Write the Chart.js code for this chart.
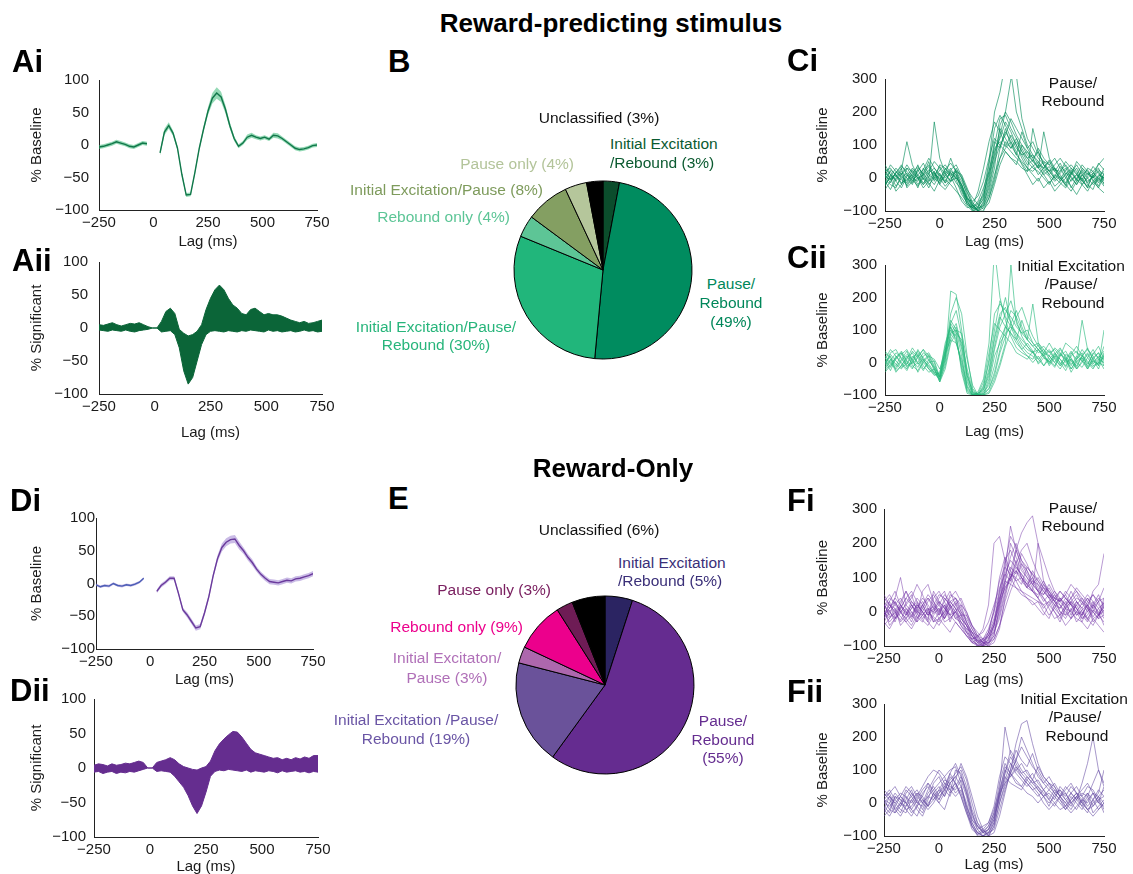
<!DOCTYPE html>
<html>
<head>
<meta charset="utf-8">
<script src="https://cdn.jsdelivr.net/npm/chart.js@4.4.1/dist/chart.umd.min.js"></script>
<style>
html, body { margin: 0; padding: 0; background: #fff; }
body { width: 1133px; height: 874px; position: relative; overflow: hidden; font-family: "Liberation Sans", Arial, sans-serif; color: #111; }
.box { position: absolute; }
.txt { position: absolute; white-space: nowrap; font-size: 15.5px; line-height: 1; }
.lbl { position: absolute; white-space: nowrap; font-weight: bold; font-size: 31px; line-height: 1; transform: translateY(-50%); }
.ttl { position: absolute; white-space: nowrap; font-weight: bold; font-size: 26px; line-height: 1; transform: translate(-50%, -50%); }
</style>
</head>
<body>
<script>
// ---- data ----
const range = (a, b, s) => { const r = []; for (let v = a; v <= b; v += s) r.push(v); return r; };
const lagsPre = range(-250, -30, 20);
const lagsPost = range(30, 750, 20);
const lagsAll = range(-250, 750, 20);
const lagsTrace = range(-250, 750, 25);

// Ai : mean % baseline (reward-predicting), with sem
const aiPre = [-3, -2, 0, 2, 5, 3, 1, -2, -3, 0, 3, 2];
const aiPost = [-12, 20, 30, 18, -5, -45, -77, -76, -42, -5, 25, 52, 72, 80, 74, 55, 30, 10, -2, 3,
  12, 15, 12, 10, 12, 9, 15, 14, 10, 5, 0, -5, -7, -6, -4, -1, 0];
const aiSemPre = [3, 3, 3, 3, 3, 3, 3, 3, 3, 3, 3, 3];
const aiSemPost = [4, 5, 5, 4, 3, 3, 3, 3, 3, 3, 4, 6, 8, 9, 8, 6, 5, 4, 3, 3,
  4, 4, 3, 3, 3, 3, 4, 4, 3, 3, 3, 3, 3, 3, 3, 3, 3];

// Aii : % significant (upper / lower envelope)
const aiiUp = [5, 4, 6, 8, 5, 3, 5, 7, 6, 8, 5, 2, 0, 0, 10, 25, 30, 22, -2, -8,
  -12, -10, -5, 5, 28, 45, 58, 65, 58, 45, 35, 30, 22, 20, 28, 30, 25, 20, 22, 20,
  20, 18, 15, 12, 10, 8, 10, 7, 8, 10, 12];
const aiiLo = [-3, -4, -5, -3, -4, -5, -3, -5, -6, -4, -3, -2, 0, 0, -6, -5, -4, -10, -30, -65,
  -85, -75, -50, -25, -10, -5, -4, -5, -6, -4, -5, -6, -4, -5, -3, -4, -5, -6, -3, -5,
  -4, -6, -5, -4, -6, -5, -3, -5, -4, -6, -5];

// Di : mean % baseline (reward-only), with sem
const diPre = [-2, -5, -3, -4, 0, -3, -4, -2, -3, -1, 2, 8];
const diPost = [-12, -3, 2, 8, 8, -15, -40, -48, -58, -68, -66, -45, -20, 12, 38, 55, 63, 67, 68, 58,
  50, 40, 32, 22, 14, 8, 3, 2, 1, 3, 5, 4, 7, 8, 10, 12, 15];
const diSemPre = [2, 2, 2, 2, 2, 2, 2, 2, 2, 2, 2, 2];
const diSemPost = [3, 3, 3, 3, 3, 3, 3, 4, 4, 4, 4, 4, 4, 4, 5, 6, 6, 6, 6, 6,
  5, 5, 5, 4, 4, 4, 4, 4, 4, 4, 4, 4, 4, 4, 4, 4, 4];

// Dii : % significant
const diiUp = [4, 6, 5, 3, 6, 4, 5, 7, 6, 8, 10, 8, 0, 0, 8, 10, 12, 15, 12, 6,
  2, 0, -2, -3, 0, 2, 10, 25, 35, 42, 48, 53, 52, 45, 36, 27, 22, 20, 18, 16,
  14, 15, 12, 14, 12, 15, 13, 16, 14, 18, 18];
const diiLo = [-6, -5, -8, -6, -5, -8, -6, -7, -5, -6, -4, -2, 0, 0, -5, -4, -5, -6, -12, -20,
  -28, -40, -55, -66, -55, -35, -12, -5, -3, -4, -2, -3, -4, -5, -3, -6, -4, -5, -6, -4,
  -5, -7, -4, -6, -5, -4, -6, -5, -7, -5, -6];

// Ci : single neurons, Pause/Rebound (reward-predicting)
const ciTraces = [
  [10, -15, 20, 5, -10, 25, 0, -20, 15, 30, 5, -10, 20, 10, -40, -80, -95, -90, -60, 40, 150, 190, 160, 120, 90, 70, 40, 55, 30, 10, 25, -5, 15, 30, 0, -20, 10, 25, -10, 5, 20],
  [-20, 5, 30, 10, 40, 15, -5, 10, 35, 0, -15, 20, 5, -30, -70, -90, -85, -40, 30, 110, 170, 140, 100, 80, 60, 45, 20, 35, 50, 30, 10, -10, 5, -25, 10, 30, -5, -30, 15, 0, -15],
  [30, 10, -25, 0, 15, -10, 20, 45, 10, -5, 25, 40, 15, 0, -20, -60, -85, -95, -80, -20, 60, 130, 200, 300, 310, 180, 120, 90, 60, 40, 20, 30, -10, 15, 5, -20, 10, -15, 5, 25, 10],
  [0, 20, -10, -30, 5, 30, 10, -15, 5, 20, -10, 5, 30, -5, -50, -75, -90, -70, -30, 20, 90, 110, 95, 130, 100, 70, 80, 50, 90, 60, 40, 20, 45, 10, 30, 15, -20, 5, 35, 15, -5],
  [-10, -35, 0, 25, 110, 40, 5, -20, -5, 170, 60, 15, -10, 5, -30, -65, -70, -55, -10, 60, 120, 100, 80, 60, 40, 100, 70, 50, 30, 140, 60, 30, 10, -15, 20, -10, 25, 0, -20, -5, 30],
  [15, 0, 10, -15, -5, 10, -20, 5, 25, 10, 0, -25, -5, 20, -10, -45, -80, -100, -85, -50, 10, 60, 90, 110, 70, 50, 30, 10, -10, 20, 5, -25, -10, 10, -30, 0, 20, -20, -35, 10, 0],
  [-25, 10, -5, 20, 0, -20, 30, 15, -10, 5, 35, 10, 60, 15, -20, -70, -95, -85, -65, 0, 100, 180, 190, 150, 120, 90, 60, 40, 10, 30, 50, 20, 0, -20, 15, 40, 10, -10, 5, -25, 15],
  [5, -5, 15, 35, 20, 0, -10, 30, 0, -20, 10, -5, -20, -40, -60, -85, -100, -90, -40, 50, 200, 260, 350, 320, 200, 150, 100, 70, 50, 20, 35, 0, -15, -30, -5, 10, -10, 15, 0, 20, -20],
  [20, 30, 5, -5, -20, 5, 40, 0, -30, 15, -5, 30, 10, 25, 0, -35, -60, -80, -95, -75, -20, 40, 80, 60, 50, 30, 20, 150, 80, 40, 20, 40, 60, 35, 10, 50, 30, 15, -5, -30, 5],
  [-5, -20, -30, 10, 30, 20, 0, 10, 50, -10, 15, -15, 0, 10, -30, -80, -90, -75, -50, 10, 70, 150, 120, 90, 110, 80, 60, 70, 40, 30, 55, 25, 20, 40, 15, -5, 30, 10, 20, 40, 60],
  [-15, 25, 10, -20, 30, 5, -30, 20, 40, 15, -20, 10, -10, 30, 0, -55, -90, -100, -70, -10, 80, 120, 170, 140, 100, 60, 30, 20, 40, 10, -15, 5, 35, 20, -10, 10, -5, 30, 20, -10, 10],
  [40, 10, -10, 15, -25, 0, 25, -5, 20, 50, 30, 0, 15, -15, -35, -70, -100, -95, -75, -30, 50, 100, 130, 180, 150, 120, 90, 110, 70, 50, 40, 60, 30, 0, 25, -5, -20, 0, 15, 30, -10],
  [-35, -10, 15, 40, 10, -15, 0, -30, -10, 20, -20, -35, -10, 0, -20, -60, -80, -100, -100, -60, 0, 90, 140, 110, 80, 40, 10, -20, 0, -30, -10, -40, -20, 0, -25, -50, -20, -40, -10, -30, -45],
  [5, 40, 20, 0, -15, 15, 35, 10, -20, 0, 40, 30, 5, 20, 10, -30, -75, -90, -85, -40, 30, 160, 200, 170, 130, 100, 80, 60, 30, 50, 20, 0, 20, 50, 30, 10, 40, 20, 0, 45, 25],
  [-20, 0, -40, -20, 10, -5, -25, 0, -15, -40, -5, 25, 45, 20, -25, -65, -90, -80, -55, 20, 110, 90, 150, 100, 70, 140, 90, 60, 80, 40, 10, 30, 0, -20, -40, -10, 0, -30, -15, 0, -25],
  [25, -5, 5, 30, -30, -10, 10, 25, 60, 30, 10, -15, 25, 40, 5, -40, -85, -100, -90, -60, -10, 60, 110, 90, 120, 80, 50, 30, 20, 0, -20, 10, -5, 25, 40, 20, -10, -25, 10, -15, 5]
];

// Cii : single neurons, Initial Excitation/Pause/Rebound (reward-predicting)
const ciiTraces = [
  [10, -15, 20, 0, -20, 15, 30, 5, -10, -35, -40, 40, 100, 80, -20, -90, -100, -95, -80, -20, 80, 150, 170, 120, 90, 60, 40, 30, 55, 20, 0, 25, 10, -15, 20, 35, 5, -10, 30, 15, 0],
  [-20, 5, 30, 15, -5, 20, 0, -25, 10, -20, -50, 20, 80, 110, 40, -60, -95, -100, -70, 0, 100, 190, 140, 110, 70, 40, 60, 35, 10, 30, -10, 15, 40, 20, -5, 10, 30, -15, 10, -20, 25],
  [30, 10, -10, 25, 40, 5, -15, 20, 30, 0, -55, 10, 220, 210, 100, -50, -100, -100, -100, -60, 20, 60, 90, 110, 90, 70, 50, 30, 40, 20, 35, 10, -10, 25, 15, -20, 5, 30, 0, 20, 10],
  [0, 20, -25, -10, 15, 30, -5, 10, -20, -40, -30, 50, 120, 90, -30, -95, -100, -90, -50, 60, 350, 200, 130, 80, 45, 30, 20, 10, 40, 15, -5, 20, 0, -25, 10, -10, 20, 5, -15, 0, -10],
  [-30, -10, 10, 30, 0, -20, 20, 40, 5, -15, -60, 0, 90, 100, 60, -40, -90, -100, -95, -80, -30, 40, 110, 160, 140, 100, 70, 180, 60, 40, 20, 0, 30, 10, -20, 5, 15, -5, 25, 50, 10],
  [15, -5, -20, 5, 25, 10, -30, 0, 20, 10, -20, 30, 70, 60, 10, -70, -100, -100, -85, -40, 50, 130, 200, 120, 80, 50, 30, 20, 0, 25, 40, 15, -10, 5, 30, 10, 130, 40, 20, -10, 100],
  [-10, 25, 5, -15, -5, 35, 15, -20, 0, 5, -45, 20, 150, 200, 150, 20, -80, -100, -100, -90, -50, 0, 60, 300, 120, 90, 100, 60, 40, 50, 30, 40, 20, 60, 45, 30, 20, 40, 10, 30, -10],
  [5, -25, 15, 30, -15, 0, 40, 10, -15, -30, -35, 60, 110, 70, -10, -85, -100, -95, -60, 30, 120, 100, 80, 60, 30, 20, 10, 35, -5, 15, 5, -15, 25, 10, -30, 0, 15, -20, 5, -5, 20],
  [20, 0, -15, 10, 35, -10, -25, 5, 25, -10, -45, 30, 90, 120, 50, -40, -90, -100, -95, -50, 40, 110, 150, 190, 130, 80, 50, 30, 10, -10, 20, 0, -20, 10, 35, 0, -15, 15, 40, 10, -20],
  [-5, 30, 40, 10, -10, 0, 25, -10, -30, -20, -60, -20, 60, 90, 70, -20, -85, -100, -100, -80, -40, 30, 80, 120, 160, 110, 70, 50, 60, 30, 20, 45, 30, 0, 10, -15, 20, 45, 10, -10, 30],
  [35, 15, -5, -20, 10, 45, 20, 0, -20, -35, -50, 10, 120, 160, 80, -30, -95, -100, -90, -70, -10, 70, 110, 90, 60, 40, 20, 0, 20, -10, 10, 30, -5, 15, -20, 10, 40, 15, -10, 0, 50],
  [-25, -5, 15, 35, 5, -15, 0, 30, 15, -25, -45, 40, 110, 60, 0, -75, -100, -100, -75, 10, 150, 180, 160, 140, 110, 90, 70, 50, 30, 40, 10, -10, 20, 35, 5, -20, 0, 25, -5, 15, 35],
  [10, 40, 20, -5, -25, 10, 35, 15, -5, -30, -55, -10, 70, 100, 90, 10, -70, -100, -100, -95, -60, -10, 50, 100, 140, 170, 120, 80, 50, 30, 60, 30, 10, -10, 25, 50, 20, 0, -20, 10, 0],
  [-15, 10, -30, -10, 20, -5, 15, 40, 20, -15, -40, 30, 130, 100, 20, -80, -100, -95, -85, -30, 70, 140, 110, 90, 70, 130, 80, 60, 40, 20, 0, 25, 45, 15, -10, 20, 5, -20, 15, 30, 5]
];

// Fi : single neurons, Pause/Rebound (reward-only)
const fiTraces = [
  [20, -10, 30, 0, -20, 10, 40, 20, -10, 5, 30, -20, 10, 25, -10, -10, -40, -70, -90, -85, -40, 60, 150, 180, 140, 100, 80, 60, 40, 20, 30, 0, -20, 10, 30, -10, 5, 20, -15, 10, 25],
  [-20, 5, -30, 10, 40, 20, -5, 60, 80, 30, -10, 20, -30, 10, -20, -40, -60, -85, -95, -80, -40, 30, 100, 160, 200, 150, 120, 80, 60, 30, 50, 20, -10, 15, 40, 10, -20, 0, 30, -10, 15],
  [40, 20, 0, -25, 10, -15, 20, 0, 30, 50, 20, -10, 50, 40, 10, -30, -70, -90, -100, -60, 10, 90, 130, 110, 90, 100, 70, 60, 40, 80, 50, 30, 20, 0, -20, 30, 10, 40, 20, -5, 10],
  [0, -30, -10, 15, -5, 30, 10, -20, 0, -15, -30, 10, -10, -30, -50, -70, -90, -95, -85, -75, -60, -20, 50, 120, 180, 230, 260, 280, 200, 150, 100, 60, 40, 20, 60, 30, 10, -20, 5, -10, 20],
  [-10, 10, 40, 100, 20, 0, -20, 10, 40, 20, 0, 30, 60, 20, -10, -60, -80, -75, -50, 20, 200, 220, 150, 100, 70, 50, 40, 30, 10, -10, 20, 0, -30, 10, -20, 0, -10, 20, -30, -10, 5],
  [10, 30, -20, -5, 25, 50, 0, -10, 10, -30, -20, 0, 30, 10, -5, -40, -70, -100, -90, -90, -50, 0, 80, 100, 130, 110, 80, 100, 60, 50, 70, 40, 30, 50, 20, 40, 30, 10, 60, 80, 170],
  [-30, 0, 20, 40, 10, -10, -30, 20, -10, 10, 40, 60, 10, -20, -30, -60, -90, -80, -95, -70, -30, 40, 90, 80, 70, 60, 50, 40, 30, 20, -10, 10, 40, 20, 0, -20, -30, 10, 0, 30, -10],
  [25, -15, -5, 20, 60, 30, 10, 40, 20, -5, 10, -20, 20, 40, 0, -20, -50, -75, -90, -100, -80, -40, 10, 60, 100, 140, 120, 90, 80, 60, 40, 20, 10, 30, -10, 20, 40, 10, -20, -10, 0],
  [-5, 20, 10, -15, -30, -10, 25, 0, -25, 40, 60, 30, -10, 0, 20, -30, -60, -85, -80, -50, 0, 60, 120, 250, 180, 130, 100, 70, 40, 10, 30, 50, 20, -10, 5, 30, 0, -25, 15, 40, 20],
  [15, 40, 25, 5, -10, 20, -15, -30, 5, 15, -10, 40, 20, -10, -40, -70, -80, -70, -60, -30, 20, 70, 110, 90, 150, 100, 80, 60, 200, 90, 50, 30, 60, 40, 20, 0, 25, 50, 30, 10, -20],
  [-40, -20, 0, -30, -10, 20, -5, -25, -40, -10, 10, -30, -20, 0, -30, -50, -60, -90, -80, -95, -70, 20, 140, 220, 190, 150, 130, 110, 90, 70, 60, 40, 30, 10, 0, 20, -10, -30, 0, -20, -10],
  [30, 50, 20, 0, 20, 40, 80, 50, 10, 0, 20, 50, 30, 40, 20, 0, -40, -60, -80, -70, -40, 30, 70, 100, 120, 90, 70, 120, 90, 60, 40, 60, 30, 50, 80, 60, 40, 20, 50, 30, 40],
  [10, -40, -20, 20, 0, -30, 10, 30, 0, -20, -40, -10, 20, -20, -10, -40, -80, -100, -95, -90, -70, 10, 90, 130, 110, 170, 140, 100, 70, 40, 20, 40, 0, -20, 10, -30, -10, 20, 0, -20, 30],
  [-20, 30, 60, 20, -10, 10, 30, -10, -30, 0, 30, 10, 40, 60, 30, -10, -50, -80, -90, -60, -20, 50, 110, 150, 130, 110, 90, 60, 50, 70, 40, 10, -10, 20, 40, 60, 30, 0, 20, 50, 10],
  [0, -20, 10, -40, -20, 0, -30, -10, 10, -30, 0, 20, -20, 0, -40, -60, -70, -85, -100, -95, -60, -10, 60, 100, 140, 180, 200, 150, 110, 80, 60, 30, 10, 40, 20, -10, 0, -20, -40, -10, -30],
  [50, 20, 0, 30, 60, 20, 0, 20, 50, 30, 0, -20, 10, 30, 0, -30, -60, -70, -80, -60, 0, 100, 160, 120, 90, 60, 40, 20, 30, 0, -20, 20, 40, 10, 30, 50, 20, 40, 10, -10, 40],
  [-30, -50, -20, 0, -30, -50, -20, 0, -30, -50, -20, -40, -60, -30, -50, -70, -90, -100, -100, -90, -80, -40, 30, 80, 120, 100, 70, 90, 60, 40, 10, -20, -10, -40, -20, 0, -30, -50, -20, -40, -60],
  [20, 0, -20, 10, 40, 60, 30, 10, -10, 20, 50, 40, 20, 0, -20, -40, -70, -90, -85, -70, -30, 40, 80, 200, 160, 120, 100, 80, 100, 70, 50, 40, 60, 40, 20, 10, -10, 30, 50, 20, 0],
  [-10, 10, 30, 0, -20, -40, -10, 20, 40, 10, -20, 0, 30, 10, -30, -50, -85, -95, -100, -80, -40, 20, 70, 90, 180, 140, 110, 80, 60, 90, 60, 30, 0, -10, 30, 10, -20, -10, 20, 0, -40],
  [30, 10, 40, 20, 0, -20, 20, 0, -20, 60, 30, 10, -10, 20, 40, 0, -40, -70, -90, -100, -90, -50, 40, 110, 100, 80, 130, 110, 80, 50, 80, 50, 30, 60, 40, 70, 50, 30, 10, 30, 70]
];

// Fii : single neurons, Initial Excitation/Pause/Rebound (reward-only)
const fiiTraces = [
  [10, -20, 20, 0, -10, 30, 10, -20, 20, 40, 60, 80, 100, 110, 60, -20, -70, -90, -80, -60, -10, 80, 140, 120, 100, 80, 60, 40, 20, 40, 10, -10, 20, 30, 0, -20, 10, 30, -10, 20, 0],
  [-30, 0, 30, 10, -20, -10, 20, 50, 80, 100, 90, 60, 30, 50, 80, 40, -30, -80, -100, -90, -50, 40, 230, 150, 120, 90, 100, 70, 50, 30, 10, 40, 20, 0, -20, 10, 30, 20, -30, -10, 10],
  [20, 30, -10, -30, 10, 40, 0, -10, 30, 50, 20, 40, 70, 90, 110, 70, 0, -60, -90, -80, -40, 30, 90, 160, 130, 100, 80, 60, 70, 40, 60, 40, 20, 50, 30, 10, 60, 120, 200, 100, 60],
  [0, -10, 10, 30, 20, -20, -40, 0, 20, 10, 40, 20, 60, 80, 50, -10, -60, -90, -100, -100, -70, 0, 60, 100, 180, 240, 250, 180, 120, 80, 60, 30, 10, -10, 20, 0, -20, 10, 30, 0, -10],
  [-20, 20, 0, -20, -30, 10, 30, 20, -10, 30, 10, 50, 90, 60, 20, -30, -70, -95, -85, -70, -30, 60, 120, 90, 60, 50, 30, 20, 0, 20, -10, 30, 10, -20, 0, 20, -10, -30, 10, 30, 100],
  [30, 10, -20, 0, 40, 20, -10, -30, 10, 60, 80, 40, 20, 70, 120, 80, 20, -40, -80, -100, -90, -40, 30, 100, 160, 130, 110, 150, 100, 70, 50, 30, 40, 20, 50, 30, 10, 0, 30, 20, 40],
  [-10, -30, 20, 10, 0, -20, 10, 40, 60, 30, 0, -20, 30, 100, 90, 30, -40, -70, -90, -95, -60, 20, 80, 60, 50, 40, 70, 90, 60, 40, 20, 0, -20, -10, 10, 30, 0, -20, -10, 10, -30],
  [10, 0, -30, -10, 20, 0, 30, 0, -20, 0, 30, 60, 50, 40, 70, 20, -50, -80, -70, -60, -20, 40, 100, 80, 100, 120, 90, 70, 110, 80, 60, 50, 20, 40, 60, 30, 20, 50, 40, 10, 20],
  [-20, -40, -10, 20, 0, -30, -10, 30, 50, 20, 40, 70, 60, 30, 50, 0, -60, -90, -100, -80, -40, 10, 90, 140, 110, 80, 60, 40, 50, 20, 0, 20, 40, 10, -10, 20, 0, 30, 10, -20, 0],
  [20, 40, 10, -10, 30, 50, 20, 0, 40, 70, 100, 80, 40, 20, 40, -10, -50, -70, -85, -90, -60, 30, 110, 90, 70, 50, 80, 60, 40, 20, 40, 60, 30, 10, 30, 50, 20, -10, 10, 40, 20],
  [0, 20, -20, -40, -10, 10, -20, -40, 0, 20, 0, 30, 80, 60, 30, -20, -70, -100, -100, -90, -80, -20, 40, 90, 130, 170, 140, 110, 90, 60, 40, 20, 0, -20, 10, 30, 0, -20, 0, 20, -20],
  [40, 20, 0, 20, 50, 30, 0, 20, 60, 40, 10, 40, 90, 120, 80, 30, -30, -70, -90, -80, -50, 20, 70, 120, 90, 70, 50, 70, 40, 20, 30, 10, 50, 30, 0, 20, 40, 60, 30, 0, 50],
  [-40, -20, -30, 0, -20, -40, -10, 10, -10, 10, 30, 50, 40, 60, 20, -30, -80, -95, -90, -70, -30, 30, 60, 80, 110, 90, 70, 50, 30, 0, -20, 0, 20, -10, -30, -10, 10, -20, -40, -20, 0],
  [10, 30, 50, 20, 0, 20, 40, 10, -10, 30, 50, 20, 60, 80, 100, 50, -20, -60, -80, -100, -70, 0, 50, 90, 130, 200, 160, 120, 80, 60, 80, 50, 20, 0, 30, 10, -10, 20, 60, 100, 50]
];

// pies (clockwise from 12 o'clock)
const pieBCats = ['Initial Excitation/Rebound', 'Pause/Rebound', 'Initial Excitation/Pause/Rebound', 'Rebound only', 'Initial Excitation/Pause', 'Pause only', 'Unclassified'];
const pieBValues = [3, 49, 30, 4, 8, 4, 3];
const pieECats = ['Initial Excitation/Rebound', 'Pause/Rebound', 'Initial Excitation/Pause/Rebound', 'Initial Excitaton/Pause', 'Rebound only', 'Pause only', 'Unclassified'];
const pieEValues = [5, 55, 19, 3, 9, 3, 6];

// ---- drawing ----
const FS = 15;
const HALF = FS * 1.2 / 2;
const PT = 12, PR = 18;
const FONT = { family: '"Liberation Sans", Arial, sans-serif', size: FS };
const INK = '#1a1a1a';
const pts = (xs, ys) => ys.map((y, i) => ({ x: xs[i], y }));
const minus = v => String(v).replace('-', '\u2212');

function addText(str, x, y, anchor, color, cls) {
  const d = document.createElement('div');
  d.className = cls || 'txt';
  d.textContent = str;
  d.style.left = x + 'px';
  d.style.top = y + 'px';
  if (color) d.style.color = color;
  if (!cls) {
    const tx = anchor === 'l' ? '0' : anchor === 'r' ? '-100%' : '-50%';
    d.style.transform = `translate(${tx}, -50%)`;
  }
  document.body.appendChild(d);
}

function linePanel(b, datasets, yMin, yMax, yStep, yTitle) {
  const L = b.tx - HALF, T = b.y0 - PT;
  const W = b.x1 + PR - L, H = b.ty + HALF - T;
  const yw = b.x0 - L, xh = b.ty + HALF - b.y1;
  const div = document.createElement('div');
  div.className = 'box';
  div.style.cssText = `left:${L}px;top:${T}px;width:${W}px;height:${H}px`;
  const cv = document.createElement('canvas');
  div.appendChild(cv);
  document.body.appendChild(div);
  new Chart(cv, {
    type: 'line',
    data: { datasets },
    options: {
      responsive: true,
      maintainAspectRatio: false,
      animation: false,
      events: [],
      layout: { padding: { top: PT, right: PR, left: 0, bottom: 0 } },
      plugins: { legend: { display: false }, tooltip: { enabled: false } },
      elements: { point: { radius: 0 }, line: { borderWidth: 1, tension: 0 } },
      scales: {
        x: {
          type: 'linear', min: -250, max: 750,
          ticks: { stepSize: 250, padding: 4, font: FONT, color: INK, callback: minus, maxRotation: 0, autoSkip: false },
          grid: { display: false, drawTicks: false },
          border: { color: '#222', width: 1 },
          title: { display: true, text: 'Lag (ms)', font: FONT, color: INK, padding: 0 },
          afterFit: s => { s.height = xh; s.paddingLeft = 0; s.paddingRight = 0; }
        },
        y: {
          min: yMin, max: yMax,
          ticks: { stepSize: yStep, padding: b.yp, font: FONT, color: INK, callback: minus, autoSkip: false },
          grid: { display: false, drawTicks: false },
          border: { color: '#222', width: 1 },
          title: { display: true, text: yTitle, font: FONT, color: INK, padding: 0 },
          afterFit: s => { s.width = yw; s.paddingTop = 0; s.paddingBottom = 0; }
        }
      }
    }
  });
}

function meanSets(pre, post, semPre, semPost, preColor, postColor, band) {
  const up = (m, s) => m.map((v, i) => v + s[i]);
  const lo = (m, s) => m.map((v, i) => v - s[i]);
  const line = (data, color) => ({ data, borderColor: color, borderWidth: 1.4, fill: false });
  const edge = (data, fill) => ({ data, borderWidth: 0, borderColor: 'rgba(0,0,0,0)', backgroundColor: band, fill });
  return [
    line(pts(lagsPre, pre), preColor),
    line(pts(lagsPost, post), postColor),
    edge(pts(lagsPre, up(pre, semPre)), '+1'),
    edge(pts(lagsPre, lo(pre, semPre)), false),
    edge(pts(lagsPost, up(post, semPost)), '+1'),
    edge(pts(lagsPost, lo(post, semPost)), false)
  ];
}

function sigSets(upper, lower, color) {
  return [
    { data: pts(lagsAll, upper), borderColor: color, backgroundColor: color, borderWidth: 1, fill: '+1' },
    { data: pts(lagsAll, lower), borderColor: color, borderWidth: 1, fill: false }
  ];
}

function traceSets(traces, color) {
  return traces.map(t => ({ data: pts(lagsTrace, t), borderColor: color, borderWidth: 0.9, fill: false }));
}

function piePanel(cx, cy, r, cats, values, colors) {
  const s = 2 * r + 20;
  const div = document.createElement('div');
  div.className = 'box';
  div.style.cssText = `left:${cx - s / 2}px;top:${cy - s / 2}px;width:${s}px;height:${s}px`;
  const cv = document.createElement('canvas');
  div.appendChild(cv);
  document.body.appendChild(div);
  new Chart(cv, {
    type: 'pie',
    data: { labels: cats, datasets: [{ data: values, backgroundColor: colors, borderColor: '#000', borderWidth: 1, radius: r }] },
    options: {
      responsive: true, maintainAspectRatio: false, animation: false, events: [],
      radius: r,
      layout: { padding: 0 },
      plugins: { legend: { display: false }, tooltip: { enabled: false } }
    }
  });
}

function pieLabels(values, layout) {
  layout.forEach((o, i) => {
    o.lines.forEach((ln, k) => addText(ln.replace('%v', values[i]), o.x, o.ys[k], o.a, o.c));
  });
}

// line panels
linePanel({ x0: 99, x1: 317, y0: 80, y1: 210, tx: 37, ty: 242, yp: 10 },
  meanSets(aiPre, aiPost, aiSemPre, aiSemPost, '#11774a', '#11774a', 'rgba(60,185,120,0.55)'),
  -100, 100, 50, '% Baseline');
linePanel({ x0: 99, x1: 322, y0: 262, y1: 394, tx: 37, ty: 433, yp: 11 },
  sigSets(aiiUp, aiiLo, '#0b6538'), -100, 100, 50, '% Significant');
linePanel({ x0: 885, x1: 1104, y0: 79, y1: 211, tx: 823, ty: 242, yp: 8 },
  traceSets(ciTraces, 'rgba(0,138,88,0.7)'), -100, 300, 100, '% Baseline');
linePanel({ x0: 885, x1: 1104, y0: 265, y1: 395, tx: 823, ty: 432, yp: 8 },
  traceSets(ciiTraces, 'rgba(40,185,125,0.7)'), -100, 300, 100, '% Baseline');
linePanel({ x0: 96, x1: 313, y0: 518, y1: 649, tx: 37, ty: 680, yp: 1 },
  meanSets(diPre, diPost, diSemPre, diSemPost, '#4a5eb6', '#6a3a9c', 'rgba(150,120,205,0.5)'),
  -100, 100, 50, '% Baseline');
linePanel({ x0: 94, x1: 318, y0: 699, y1: 837, tx: 37, ty: 867, yp: 8 },
  sigSets(diiUp, diiLo, '#652d8f'), -100, 100, 50, '% Significant');
linePanel({ x0: 884, x1: 1104, y0: 509, y1: 646, tx: 823, ty: 680, yp: 7 },
  traceSets(fiTraces, 'rgba(112,48,165,0.55)'), -100, 300, 100, '% Baseline');
linePanel({ x0: 884, x1: 1104, y0: 704, y1: 836, tx: 823, ty: 865, yp: 7 },
  traceSets(fiiTraces, 'rgba(104,78,165,0.65)'), -100, 300, 100, '% Baseline');

// pies
piePanel(603, 270, 89, pieBCats, pieBValues, ['#0b4d2c', '#008c5f', '#21b67b', '#5dc596', '#849f62', '#b5c69b', '#000000']);
piePanel(605, 685, 89, pieECats, pieEValues, ['#2b2462', '#652c90', '#6a529a', '#ad67ad', '#ec008c', '#6e1c55', '#000000']);

pieLabels(pieBValues, [
  { lines: ['Initial Excitation', '/Rebound (%v%)'], a: 'l', x: 610, ys: [144, 163], c: '#0b5a30' },
  { lines: ['Pause/', 'Rebound', '(%v%)'], a: 'c', x: 731, ys: [284, 303, 322], c: '#00875a' },
  { lines: ['Initial Excitation/Pause/', 'Rebound (%v%)'], a: 'c', x: 436, ys: [327, 345], c: '#27b57b' },
  { lines: ['Rebound only (%v%)'], a: 'r', x: 510, ys: [217], c: '#5cc596' },
  { lines: ['Initial Excitation/Pause (%v%)'], a: 'r', x: 543, ys: [190], c: '#7e9b5c' },
  { lines: ['Pause only (%v%)'], a: 'r', x: 574, ys: [164], c: '#b3c49a' },
  { lines: ['Unclassified (%v%)'], a: 'c', x: 599, ys: [118], c: '#111' }
]);
pieLabels(pieEValues, [
  { lines: ['Initial Excitation', '/Rebound (%v%)'], a: 'l', x: 618, ys: [563, 581], c: '#3a2f78' },
  { lines: ['Pause/', 'Rebound', '(%v%)'], a: 'c', x: 723, ys: [721, 740, 758], c: '#652d90' },
  { lines: ['Initial Excitation /Pause/', 'Rebound (%v%)'], a: 'c', x: 416, ys: [720, 739], c: '#6a55a5' },
  { lines: ['Initial Excitaton/', 'Pause (%v%)'], a: 'c', x: 447, ys: [658, 678], c: '#b070b8' },
  { lines: ['Rebound only (%v%)'], a: 'r', x: 523, ys: [627], c: '#ec008c' },
  { lines: ['Pause only (%v%)'], a: 'r', x: 551, ys: [590], c: '#7a2060' },
  { lines: ['Unclassified (%v%)'], a: 'c', x: 599, ys: [530], c: '#111' }
]);

// trace panel captions
addText('Pause/', 1073, 83, 'c');
addText('Rebound', 1073, 101, 'c');
addText('Initial Excitation', 1071, 266, 'c');
addText('/Pause/', 1071, 284, 'c');
addText('Rebound', 1073, 303, 'c');
addText('Pause/', 1073, 508, 'c');
addText('Rebound', 1073, 526, 'c');
addText('Initial Excitation', 1074, 699, 'c');
addText('/Pause/', 1075, 717, 'c');
addText('Rebound', 1077, 736, 'c');

// titles and panel letters
addText('Reward-predicting stimulus', 611, 23, 'c', '#000', 'ttl');
addText('Reward-Only', 613, 468, 'c', '#000', 'ttl');
[['Ai', 12, 61], ['Aii', 12, 260], ['B', 388, 61], ['Ci', 787, 60], ['Cii', 787, 257],
 ['Di', 10, 500], ['Dii', 10, 690], ['E', 388, 498], ['Fi', 787, 500], ['Fii', 787, 691]]
  .forEach(([t, x, y]) => addText(t, x, y, 'l', '#000', 'lbl'));
</script>
</body>
</html>
